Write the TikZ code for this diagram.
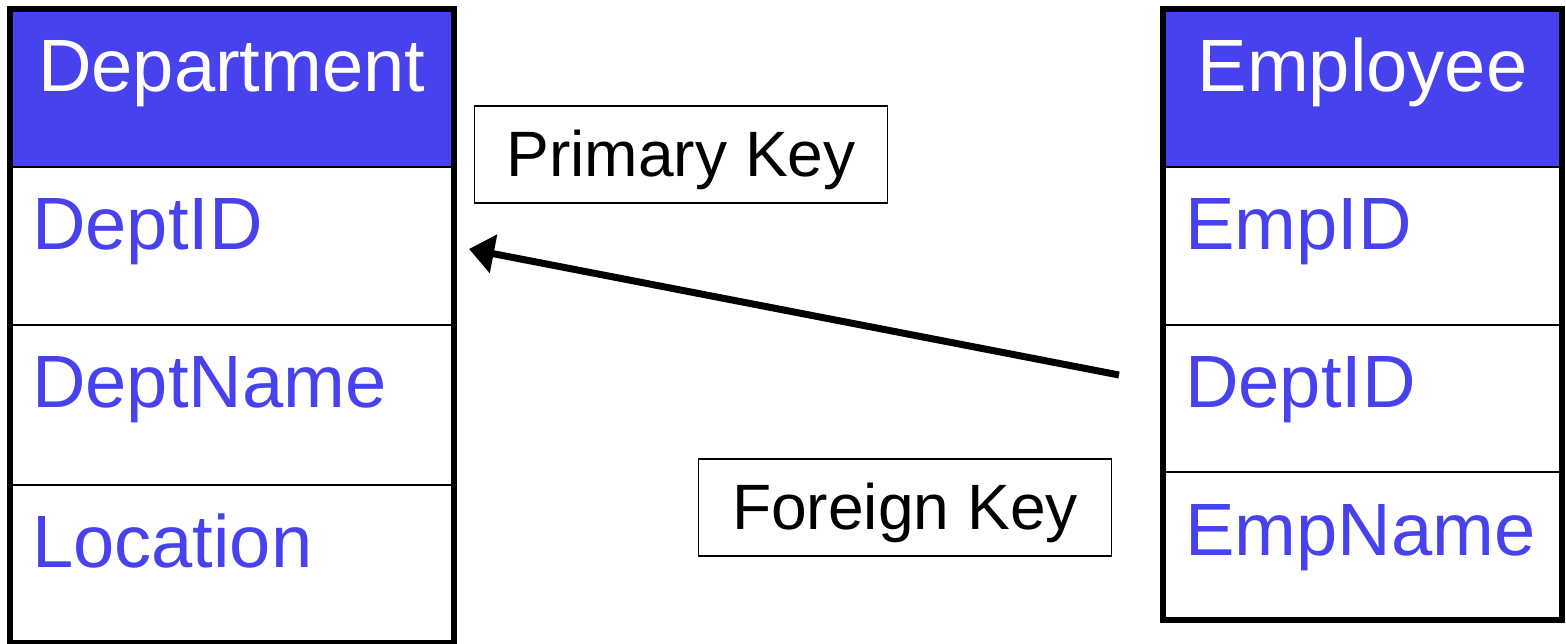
\documentclass[tikz,border=0pt]{standalone}
\usepackage{fontspec}
\setmainfont{Liberation Sans}
\usepackage{xcolor}
\usepackage{tikz}
\usetikzlibrary{arrows.meta, positioning}
\definecolor{tblue}{RGB}{72,66,238}

\begin{document}
\begin{tikzpicture}[
    cell/.style={rectangle, draw=black, line width=1.1pt, outer sep=0pt,
                 inner ysep=0pt, text height=1.66cm, text depth=#1,
                 font=\fontsize{42.2}{50}\selectfont},
    cell/.default=1.5cm,
    head/.style={cell, fill=tblue, text=white, align=center},
    field/.style={cell=#1, text=tblue, align=left},
    field/.default=1.5cm,
    dcol/.style={inner xsep=0.44cm, text width=7.99cm},
    ecol/.style={inner xsep=0.44cm, text width=7.10cm},
    tbl/.style={draw=black, line width=0.12cm},
    keybox/.style={rectangle, draw=black, line width=1.1pt, inner sep=0pt,
                   minimum width=8.26cm, text height=1.42cm, text depth=0.52cm,
                   font=\fontsize{36.5}{42}\selectfont},
    fk/.style={-{Triangle[length=0.5cm,width=0.76cm]}, line width=0.14cm}
]
\useasboundingbox (0,0) rectangle (31.32,12.88);
% Department table
\node[head, dcol, anchor=north west] (dh) at (0.20,12.70) {Department};
\node[field, dcol, below=0pt of dh]        (did)   {DeptID};
\node[field=1.54cm, dcol, below=0pt of did] (dname) {DeptName};
\node[field, dcol, below=0pt of dname]     (dloc)  {Location};
\draw[tbl] (dh.north west) rectangle (dloc.south east);
% Employee table
\node[head, ecol, anchor=north west] (eh) at (23.26,12.70) {Employee};
\node[field, ecol, below=0pt of eh]          (eid)   {EmpID};
\node[field=1.28cm, ecol, below=0pt of eid]  (edept) {DeptID};
\node[field=1.28cm, ecol, below=0pt of edept, text height=1.68cm] (ename) {EmpName};
\draw[tbl] (eh.north west) rectangle (ename.south east);
% key labels
\node[keybox, anchor=north] (pk)   at (13.62,10.78) {Primary Key};
\node[keybox, anchor=north] (fkey) at (18.10,3.72)  {Foreign Key};
\draw[fk] ([xshift=-0.88cm,yshift=0.47cm]edept.west) -- ([xshift=0.31cm,yshift=-0.06cm]did.east);
\end{tikzpicture}
\end{document}
